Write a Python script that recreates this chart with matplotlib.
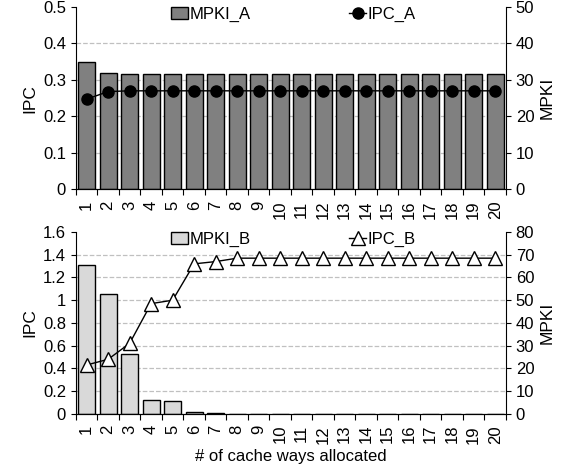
import numpy as np
import matplotlib.pyplot as plt

plt.rcParams['font.family'] = ['Liberation Sans', 'DejaVu Sans']
plt.rcParams['font.size'] = 12

ways = list(range(1, 21))

mpki_a = [34.8, 32.0] + [31.7] * 18
ipc_a = [0.247, 0.268] + [0.27] * 18

mpki_b = [65.7, 52.7, 26.2, 6.0, 5.5, 0.6, 0.3] + [0.1] * 13
ipc_b = [0.43, 0.48, 0.62, 0.97, 1.0, 1.32, 1.34] + [1.37] * 13

fig = plt.figure(figsize=(5.66, 4.65), dpi=100)

def panel(rect, mpki, ipc, bar_col, mk, mfc, ylim_l, yticks_l, ylim_r, yticks_r, lab_bar, lab_line, xlabel=None):
    ax = fig.add_axes(rect)
    ax2 = ax.twinx()
    # bars on the MPKI axis (right), line on IPC axis (left)
    ax.set_zorder(ax2.get_zorder() + 1)
    ax.patch.set_visible(False)

    for y in yticks_r[1:-1]:
        ax2.axhline(y, color='#c0c0c0', linestyle='--', linewidth=0.9, zorder=0)
    b = ax2.bar(ways, mpki, width=0.8, color=bar_col, edgecolor='black', linewidth=1.0, zorder=2, label=lab_bar)
    ms = 8 if mk == 'o' else 10
    l, = ax.plot(ways, ipc, color='black', linewidth=1.0, marker=mk, markersize=ms,
                 markerfacecolor=mfc, markeredgecolor='black', markeredgewidth=1.0, label=lab_line)

    ax.set_xlim(0.5, 20.5)
    ax.set_ylim(*ylim_l)
    ax.set_yticks(yticks_l)
    ax.set_yticklabels([('%g' % v) for v in yticks_l])
    ax2.set_ylim(*ylim_r)
    ax2.set_yticks(yticks_r)

    ax.set_xticks(np.arange(0.5, 21, 1))
    ax.set_xticklabels([])
    ax.set_xticks(ways, minor=True)
    ax.set_xticklabels([str(w) for w in ways], minor=True, rotation=90)
    ax.tick_params(axis='x', which='minor', length=0, pad=8)
    ax.tick_params(axis='x', which='major', length=4, direction='out')

    for a in (ax, ax2):
        a.spines['top'].set_visible(False)
    ax.spines['right'].set_visible(False)
    ax2.spines['left'].set_visible(False)
    ax.set_ylabel('IPC', fontsize=12.5)
    ax2.set_ylabel('MPKI', fontsize=12.5)
    if xlabel:
        ax.set_xlabel(xlabel, fontsize=12, labelpad=4)

    ly = rect[1] + rect[3] - 0.016
    fig.legend([b], [lab_bar], loc='center', bbox_to_anchor=(0.373, ly),
               frameon=False, handlelength=1.0, handletextpad=0.1, borderaxespad=0)
    fig.legend([l], [lab_line], loc='center', bbox_to_anchor=(0.676, ly),
               frameon=False, handlelength=1.0, handletextpad=0.1, borderaxespad=0)
    return ax, ax2

panel([0.134, 0.593, 0.76, 0.392], mpki_a, ipc_a, '#808080', 'o', 'black',
      (0, 0.5), [0, 0.1, 0.2, 0.3, 0.4, 0.5], (0, 50), [0, 10, 20, 30, 40, 50],
      'MPKI_A', 'IPC_A')
panel([0.134, 0.11, 0.76, 0.391], mpki_b, ipc_b, '#d9d9d9', '^', 'white',
      (0, 1.6), [0, 0.2, 0.4, 0.6, 0.8, 1.0, 1.2, 1.4, 1.6], (0, 80), [0, 10, 20, 30, 40, 50, 60, 70, 80],
      'MPKI_B', 'IPC_B', xlabel='# of cache ways allocated')

fig.savefig('out.png', dpi=100)
